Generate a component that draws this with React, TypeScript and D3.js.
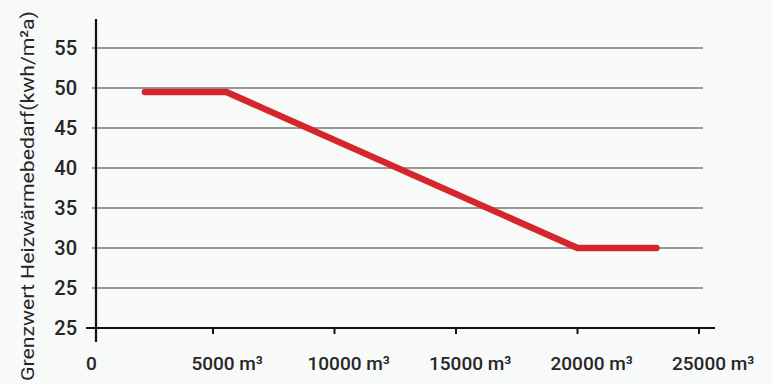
import React, { useEffect, useRef } from "react";
import * as d3 from "d3";

const yTickValues = [55, 50, 45, 40, 35, 30, 25, 20];
const yTickLabels = ["55", "50", "45", "40", "35", "30", "25", "25"];
const xTickValues = [0, 5000, 10000, 15000, 20000, 25000];
const xTickNumbers = ["0", "5000", "10000", "15000", "20000", "25000"];
const xTickUnits = ["", " m³", " m³", " m³", " m³", " m³"];
const lineX = [2200, 5550, 20000, 23250];
const lineY = [49.5, 49.5, 30, 30];
const yTitle = "Grenzwert Heizwärmebedarf(kwh/m²a)";

const W = 772;
const H = 384;

export default function App() {
  const ref = useRef<SVGSVGElement | null>(null);

  useEffect(() => {
    const svg = d3.select(ref.current);
    svg.selectAll("*").remove();

    const x = d3.scaleLinear().domain([0, 25000]).range([91.5, 699]);
    const y = d3.scaleLinear().domain([20, 55]).range([328, 48]);
    const axisX = 96;
    const font = "Roboto, 'Liberation Sans', sans-serif";
    const txt = "#262626";

    svg.append("rect").attr("width", W).attr("height", H).attr("fill", "#f8f9f9");

    // grid lines
    const gridVals = yTickValues.filter((v) => v > 20);
    svg
      .append("g")
      .selectAll("line")
      .data(gridVals)
      .join("line")
      .attr("x1", axisX - 4)
      .attr("x2", 703)
      .attr("y1", (d) => y(d))
      .attr("y2", (d) => y(d))
      .attr("stroke", "#3a3a3a")
      .attr("stroke-width", 1.1);

    // bottom axis
    svg
      .append("line")
      .attr("x1", 86)
      .attr("x2", 715)
      .attr("y1", y(20))
      .attr("y2", y(20))
      .attr("stroke", "#111")
      .attr("stroke-width", 2);

    // x ticks
    svg
      .append("g")
      .selectAll("line")
      .data(xTickValues.filter((v) => v > 0))
      .join("line")
      .attr("x1", (d) => x(d))
      .attr("x2", (d) => x(d))
      .attr("y1", y(20))
      .attr("y2", y(20) + 6)
      .attr("stroke", "#111")
      .attr("stroke-width", 2);

    // y axis
    svg
      .append("line")
      .attr("x1", axisX)
      .attr("x2", axisX)
      .attr("y1", 19)
      .attr("y2", 342)
      .attr("stroke", "#111")
      .attr("stroke-width", 2.2);

    // y tick labels
    svg
      .append("g")
      .selectAll("text")
      .data(yTickValues)
      .join("text")
      .attr("x", 77)
      .attr("y", (d) => y(d))
      .attr("dy", "0.36em")
      .attr("text-anchor", "end")
      .attr("font-family", font)
      .attr("font-size", 20)
      .attr("font-weight", 500)
      .attr("fill", txt)
      .text((d, i) => yTickLabels[i]);

    // x tick labels: number centered on tick, unit appended
    const xg = svg.append("g");
    xTickValues.forEach((v, i) => {
      const t = xg
        .append("text")
        .attr("y", 370)
        .attr("font-family", font)
        .attr("font-size", 19)
        .attr("font-weight", 500)
        .attr("fill", txt)
        .attr("text-anchor", "start");
      const num = t.append("tspan").text(xTickNumbers[i]);
      if (xTickUnits[i]) t.append("tspan").text(xTickUnits[i]);
      const w = (num.node() as SVGTextContentElement).getComputedTextLength();
      t.attr("x", x(v) - w / 2);
    });

    // y title
    svg
      .append("text")
      .attr("transform", `translate(34,${196}) rotate(-90)`)
      .attr("text-anchor", "middle")
      .attr("font-family", font)
      .attr("font-size", 19)
      .attr("fill", txt)
      .attr("textLength", 370)
      .attr("lengthAdjust", "spacingAndGlyphs")
      .text(yTitle);

    // red line
    const pts = lineX.map((v, i) => [v, lineY[i]] as [number, number]);
    const line = d3
      .line<[number, number]>()
      .x((d) => x(d[0]))
      .y((d) => y(d[1]));
    svg
      .append("path")
      .attr("d", line(pts) as string)
      .attr("fill", "none")
      .attr("stroke", "#d5262c")
      .attr("stroke-width", 6.5)
      .attr("stroke-linecap", "round")
      .attr("stroke-linejoin", "round");
  }, []);

  return (
    <svg
      ref={ref}
      width={W}
      height={H}
      style={{ position: "absolute", left: 0, top: 0, display: "block" }}
    />
  );
}
